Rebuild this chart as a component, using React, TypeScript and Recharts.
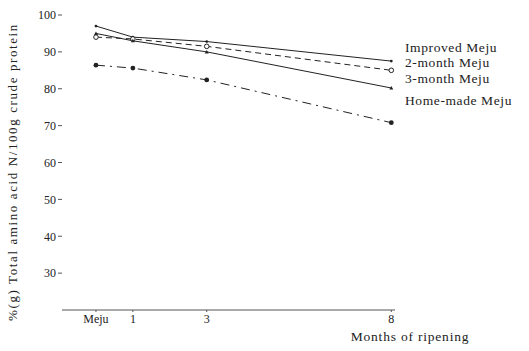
import React from 'react';
import { LineChart, Line, XAxis, YAxis } from 'recharts';

const months = [0, 1, 3, 8];
const xTickLabels = ['Meju', '1', '3', '8'];
const yTicks = [30, 40, 50, 60, 70, 80, 90, 100];
const improved = [97, 94, 92.8, 87.5];
const twoMonth = [94, 93.5, 91.5, 85];
const threeMonth = [95, 93, 90, 80.2];
const homeMade = [86.4, 85.6, 82.4, 70.8];
const seriesNames = ['Improved Meju', '2-month Meju', '3-month Meju', 'Home-made Meju'];

const data = months.map((m, i) => ({
  m,
  improved: improved[i],
  twoMonth: twoMonth[i],
  threeMonth: threeMonth[i],
  homeMade: homeMade[i],
}));

const FONT = 'Liberation Serif, DejaVu Serif, serif';
const INK = '#222';

const SmallDot = (p: any) => <circle key={p.key} cx={p.cx} cy={p.cy} r={1.4} fill={INK} />;
const OpenDot = (p: any) => <circle key={p.key} cx={p.cx} cy={p.cy} r={2.3} fill="#fff" stroke={INK} strokeWidth={1} />;
const Tri = (p: any) => (
  <path key={p.key} d={`M${p.cx},${p.cy - 2} L${p.cx + 2},${p.cy + 1.5} L${p.cx - 2},${p.cy + 1.5} Z`} fill={INK} />
);
const FilledDot = (p: any) => <circle key={p.key} cx={p.cx} cy={p.cy} r={2.4} fill={INK} />;

const legendTop = [40, 55, 71, 93];

export default function App() {
  return (
    <div style={{ position: 'absolute', left: 0, top: 0, width: 529, height: 351, background: '#fff' }}>
      <LineChart width={529} height={351} data={data} margin={{ top: 15, right: 134, bottom: 0, left: 0 }}>
        <XAxis
          dataKey="m"
          type="number"
          domain={[-0.92, 8.1]}
          ticks={months}
          tickFormatter={(v: number) => xTickLabels[months.indexOf(v)]}
          height={41}
          stroke="#555"
          tickSize={2}
          tick={{ fontFamily: FONT, fontSize: 12, fill: INK }}
          label={(props: any) => {
            const vb = props.viewBox;
            return (
              <text x={vb.x + vb.width + 15} y={vb.y + 31} textAnchor="middle" fontFamily={FONT} fontSize={13.5} letterSpacing={0.8} fill={INK}>
                Months of ripening
              </text>
            );
          }}
        />
        <YAxis
          type="number"
          domain={[20, 100]}
          ticks={yTicks}
          width={62}
          axisLine={false}
          tickSize={4}
          stroke="#555"
          tick={{ fontFamily: FONT, fontSize: 12, fill: INK }}
          label={(props: any) => {
            const cx = 14;
            const cy = 172;
            return (
              <text x={cx} y={cy} transform={`rotate(-90 ${cx} ${cy})`} textAnchor="middle" dominantBaseline="middle" fontFamily={FONT} fontSize={13} letterSpacing={1.6} fill={INK}>
                %(g) Total amino acid N/100g crude protein
              </text>
            );
          }}
        />
        <Line dataKey="improved" name={seriesNames[0]} stroke={INK} strokeWidth={1} dot={SmallDot} activeDot={false} isAnimationActive={false} />
        <Line dataKey="twoMonth" name={seriesNames[1]} stroke={INK} strokeWidth={1} strokeDasharray="6 4" dot={OpenDot} activeDot={false} isAnimationActive={false} />
        <Line dataKey="threeMonth" name={seriesNames[2]} stroke={INK} strokeWidth={1} dot={Tri} activeDot={false} isAnimationActive={false} />
        <Line dataKey="homeMade" name={seriesNames[3]} stroke={INK} strokeWidth={1} strokeDasharray="9 5 2 5" dot={FilledDot} activeDot={false} isAnimationActive={false} />
      </LineChart>
      {seriesNames.map((n, i) => (
        <div
          key={n}
          style={{
            position: 'absolute',
            left: 405,
            top: legendTop[i],
            whiteSpace: 'nowrap',
            lineHeight: '15px',
            fontFamily: FONT,
            fontSize: 13.5,
            letterSpacing: 0.6,
            color: INK,
          }}
        >
          {n}
        </div>
      ))}
    </div>
  );
}
